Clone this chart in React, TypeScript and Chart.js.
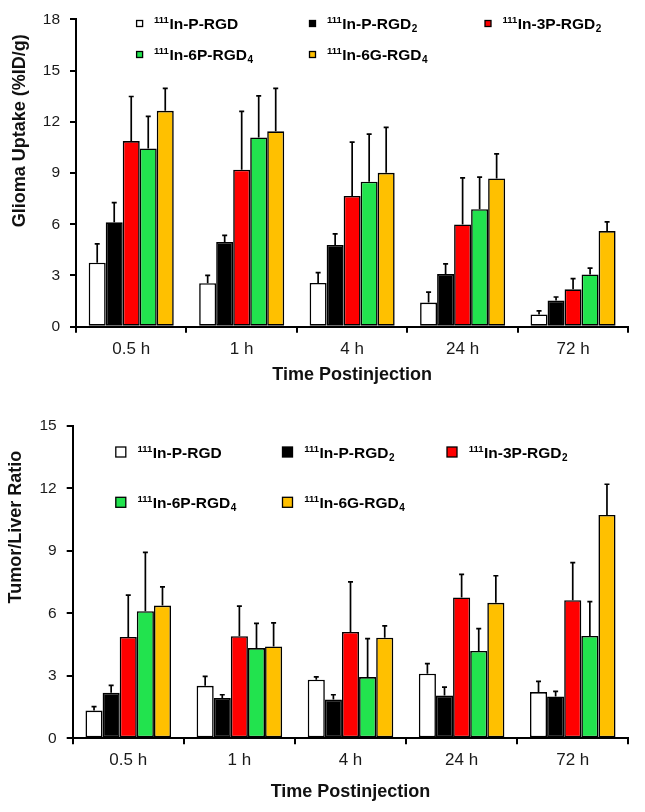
import React, { useEffect, useRef } from 'react';
import { Chart, registerables } from 'chart.js';

Chart.register(...registerables);

// ---------- data ----------
const categories = ['0.5 h', '1 h', '4 h', '24 h', '72 h'];
const seriesNames = ['111In-P-RGD', '111In-P-RGD2', '111In-3P-RGD2', '111In-6P-RGD4', '111In-6G-RGD4'];
const seriesColors = ['#FFFFFF', '#000000', '#FF0000', '#22E34E', '#FFC000'];

// Glioma uptake (%ID/g): means and SD
const uptakePRGD = [3.75, 2.55, 2.56, 1.41, 0.72];
const uptakePRGD2 = [6.11, 4.96, 4.79, 3.08, 1.53];
const uptake3PRGD2 = [10.87, 9.19, 7.66, 5.99, 2.19];
const uptake6PRGD4 = [10.44, 11.08, 8.49, 6.88, 3.06];
const uptake6GRGD4 = [12.64, 11.44, 9.01, 8.68, 5.6];
const uptakeSdPRGD = [1.1, 0.45, 0.61, 0.62, 0.21];
const uptakeSdPRGD2 = [1.16, 0.39, 0.64, 0.6, 0.21];
const uptakeSd3PRGD2 = [2.61, 3.42, 3.15, 2.73, 0.62];
const uptakeSd6PRGD4 = [1.87, 2.44, 2.79, 1.88, 0.37];
const uptakeSd6GRGD4 = [1.32, 2.52, 2.66, 1.44, 0.54];

// Tumor/Liver ratio: means and SD
const ratioPRGD = [1.33, 2.52, 2.81, 3.1, 2.22];
const ratioPRGD2 = [2.18, 1.93, 1.86, 2.05, 2.01];
const ratio3PRGD2 = [4.86, 4.9, 5.1, 6.76, 6.63];
const ratio6PRGD4 = [6.1, 4.33, 2.94, 4.19, 4.91];
const ratio6GRGD4 = [6.37, 4.41, 4.83, 6.5, 10.72];
const ratioSdPRGD = [0.19, 0.45, 0.14, 0.48, 0.51];
const ratioSdPRGD2 = [0.36, 0.16, 0.23, 0.41, 0.24];
const ratioSd3PRGD2 = [2.01, 1.44, 2.41, 1.11, 1.8];
const ratioSd6PRGD4 = [2.82, 1.18, 1.84, 1.07, 1.65];
const ratioSd6GRGD4 = [0.9, 1.13, 0.56, 1.3, 1.47];

const FONT = "'Liberation Sans', Arial, Helvetica, sans-serif";

// ---------- plugins ----------
const errorBarPlugin = {
  id: 'errorBars',
  afterDatasetsDraw(chart: any) {
    const ctx = chart.ctx;
    const yScale = chart.scales.y;
    chart.data.datasets.forEach((ds: any, i: number) => {
      const meta = chart.getDatasetMeta(i);
      meta.data.forEach((bar: any, j: number) => {
        const v = ds.data[j];
        const e = ds.errors ? ds.errors[j] : 0;
        if (!e) return;
        const yTop = yScale.getPixelForValue(v + e);
        ctx.save();
        ctx.strokeStyle = '#000';
        ctx.lineWidth = 1.7;
        ctx.beginPath();
        ctx.moveTo(bar.x, bar.y);
        ctx.lineTo(bar.x, yTop);
        ctx.moveTo(bar.x - 2.5, yTop);
        ctx.lineTo(bar.x + 2.5, yTop);
        ctx.stroke();
        ctx.restore();
      });
    });
  },
};

function drawRichLabel(ctx: CanvasRenderingContext2D, label: string, x: number, yc: number) {
  const m = label.match(/^(\d+)(.*?)(\d?)$/);
  const sup = m ? m[1] : '';
  const body = m ? m[2] : label;
  const sub = m ? m[3] : '';
  ctx.textAlign = 'left';
  ctx.textBaseline = 'alphabetic';
  ctx.fillStyle = '#000';
  let cx = x;
  ctx.font = `bold 9.5px ${FONT}`;
  ctx.fillText(sup, cx, yc - 0.5);
  cx += ctx.measureText(sup).width + 0.5;
  ctx.font = `bold 15.5px ${FONT}`;
  ctx.fillText(body, cx, yc + 5.5);
  cx += ctx.measureText(body).width + 0.5;
  if (sub) {
    ctx.font = `bold 10px ${FONT}`;
    ctx.fillText(sub, cx, yc + 8.7);
  }
}

const richLegendPlugin = {
  id: 'richLegend',
  afterDraw(chart: any, _args: any, opts: any) {
    if (!opts || !opts.items) return;
    const ctx = chart.ctx;
    ctx.save();
    chart.data.datasets.forEach((ds: any, i: number) => {
      const it = opts.items[i];
      if (!it) return;
      const s = opts.markerSize;
      ctx.fillStyle = ds.backgroundColor;
      ctx.fillRect(it.x - s / 2, it.y - s / 2, s, s);
      ctx.strokeStyle = '#000';
      ctx.lineWidth = 1.3;
      ctx.strokeRect(it.x - s / 2, it.y - s / 2, s, s);
      drawRichLabel(ctx, ds.label, it.x + opts.textGap, it.y);
    });
    ctx.restore();
  },
};

// ---------- config ----------
function makeConfig(p: any) {
  return {
    type: 'bar' as const,
    data: {
      labels: categories,
      datasets: p.values.map((vals: number[], i: number) => ({
        label: seriesNames[i],
        data: vals,
        errors: p.errors[i],
        backgroundColor: seriesColors[i],
        borderColor: '#000',
        borderWidth: 1.6,
        borderSkipped: false,
        categoryPercentage: 0.77,
        barPercentage: 1,
      })),
    },
    options: {
      responsive: false,
      maintainAspectRatio: false,
      animation: false,
      events: [],
      layout: { padding: p.padding },
      plugins: {
        legend: { display: false },
        tooltip: { enabled: false },
        richLegend: p.legend,
      },
      scales: {
        x: {
          offset: true,
          grid: { offset: true, drawOnChartArea: false, tickLength: 6, color: '#000', lineWidth: 2 },
          border: { color: '#000', width: 2 },
          ticks: { color: '#1a1a1a', font: { family: FONT, size: 17 }, padding: 6, maxRotation: 0 },
          title: {
            display: true,
            text: 'Time Postinjection',
            color: '#111',
            font: { family: FONT, size: 18, weight: 'bold' },
            padding: 0,
          },
          afterFit: (s: any) => {
            s.height = p.xHeight;
          },
        },
        y: {
          min: 0,
          max: p.max,
          ticks: { stepSize: 3, color: '#1a1a1a', font: { family: FONT, size: 15.5 }, padding: 10 },
          grid: { drawOnChartArea: false, tickLength: 6, color: '#000', lineWidth: 2 },
          border: { color: '#000', width: 2 },
          title: {
            display: true,
            text: p.yTitle,
            align: 'end',
            color: '#111',
            font: { family: FONT, size: 18, weight: 'bold' },
            padding: 0,
          },
          afterFit: (s: any) => {
            s.width = p.yWidth;
          },
        },
      },
    },
    plugins: [errorBarPlugin, richLegendPlugin],
  };
}

const topParams = {
  values: [uptakePRGD, uptakePRGD2, uptake3PRGD2, uptake6PRGD4, uptake6GRGD4],
  errors: [uptakeSdPRGD, uptakeSdPRGD2, uptakeSd3PRGD2, uptakeSd6PRGD4, uptakeSd6GRGD4],
  max: 18,
  yTitle: 'Glioma Uptake (%ID/g)   ',
  padding: { left: 9.2, right: 16.7, top: 17.3, bottom: 20.2 },
  yWidth: 66.8,
  xHeight: 59.1,
  legend: {
    markerSize: 6,
    textGap: 14.5,
    items: [
      { x: 139.6, y: 23.5 },
      { x: 312.5, y: 23.5 },
      { x: 488, y: 23.5 },
      { x: 139.6, y: 54.5 },
      { x: 312.5, y: 54.5 },
    ],
  },
};

const bottomParams = {
  values: [ratioPRGD, ratioPRGD2, ratio3PRGD2, ratio6PRGD4, ratio6GRGD4],
  errors: [ratioSdPRGD, ratioSdPRGD2, ratioSd3PRGD2, ratioSd6PRGD4, ratioSd6GRGD4],
  max: 15,
  yTitle: 'Tumor/Liver Ratio     ',
  padding: { left: 5.7, right: 16.7, top: 19.7, bottom: 9.5 },
  yWidth: 67,
  xHeight: 64.2,
  legend: {
    markerSize: 10,
    textGap: 16.7,
    items: [
      { x: 120.8, y: 46 },
      { x: 287.5, y: 46 },
      { x: 452, y: 46 },
      { x: 120.8, y: 96.3 },
      { x: 287.5, y: 96.3 },
    ],
  },
};

function BarChart({ params }: { params: any }) {
  const ref = useRef<HTMLCanvasElement | null>(null);
  useEffect(() => {
    if (!ref.current) return;
    const chart = new Chart(ref.current, makeConfig(params) as any);
    return () => chart.destroy();
  }, [params]);
  return <canvas ref={ref} width={645} height={406} style={{ display: 'block', width: 645, height: 406 }} />;
}

export default function App() {
  return (
    <div style={{ position: 'absolute', left: 0, top: 0, width: 645, height: 812, background: '#fff' }}>
      <BarChart params={topParams} />
      <BarChart params={bottomParams} />
    </div>
  );
}
